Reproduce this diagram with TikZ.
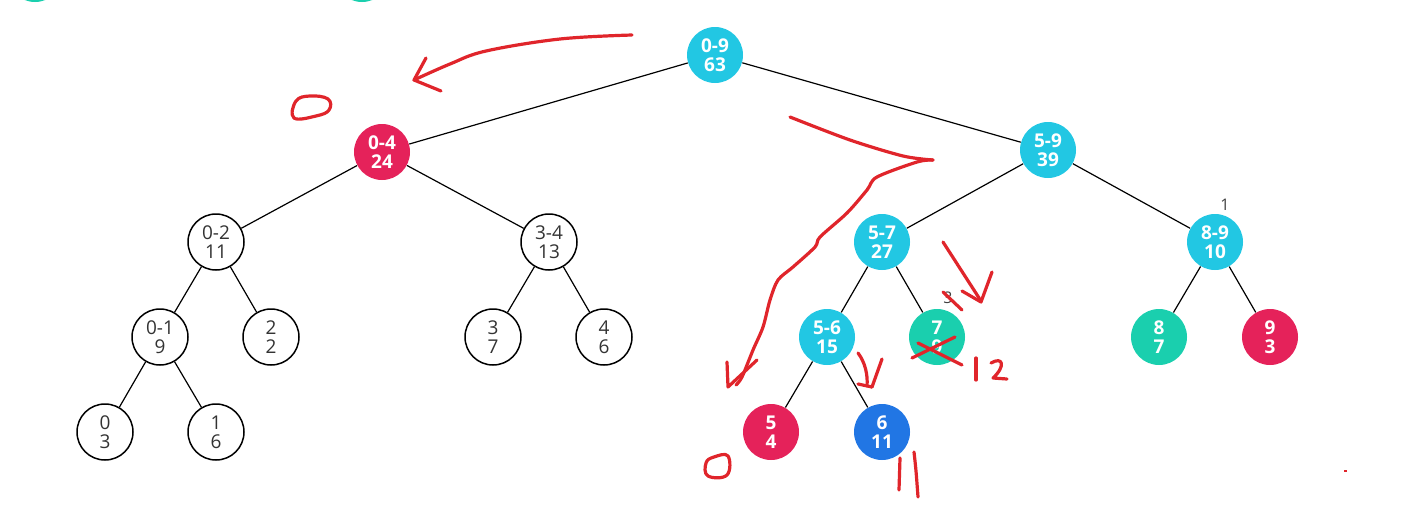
\documentclass[tikz,border=0pt]{standalone}
\usepackage{fontspec}
\setmainfont{Open Sans}
\definecolor{sky}{HTML}{22C7E3}
\definecolor{ruby}{HTML}{E5225A}
\definecolor{mint}{HTML}{1ACFAE}
\definecolor{navy}{HTML}{2176E4}
\definecolor{pen}{HTML}{E0252B}

\tikzset{
    seg/.style={circle, minimum size=28pt, inner sep=0pt, align=center,
        font=\fontsize{9.5}{9.4}\selectfont},
    plain/.style={seg, draw=black, line width=0.75pt, fill=white, text=black!80},
    full/.style={seg, text=white, font=\fontsize{9.5}{9.4}\selectfont\bfseries},
    sky/.style={full, fill=sky},
    ruby/.style={full, fill=ruby},
    mint/.style={full, fill=mint},
    navy/.style={full, fill=navy},
    link/.style={line width=0.6pt},
    tag/.style={text=black!75, font=\fontsize{8}{8}\selectfont, inner sep=0pt},
    ink/.style={draw=pen, line width=1.6pt, line cap=round, line join=round}
}

\begin{document}
\begin{tikzpicture}[x=0.5pt, y=-0.5pt]
    \useasboundingbox (0,0) rectangle (1418,520);
    %top, cut off
    \node[mint] (up1) at (35,-26) {};
    \node[mint] (up2) at (362,-26) {};
    %tree
    \node[sky] (r09) at (715,55) {0-9\\63};
    \node[ruby] (r04) at (382,152) {0-4\\24};
    \node[sky] (r59) at (1048,150) {5-9\\39};
    \node[plain] (r02) at (216,242) {0-2\\11};
    \node[plain] (r34) at (549,242) {3-4\\13};
    \node[sky] (r57) at (882,242) {5-7\\27};
    \node[sky] (r89) at (1215,242) {8-9\\10};
    \node[plain] (r01) at (160,337) {0-1\\9};
    \node[plain] (r2) at (271,337) {2\\2};
    \node[plain] (r3) at (493,337) {3\\7};
    \node[plain] (r4) at (604,337) {4\\6};
    \node[sky] (r56) at (827,337) {5-6\\15};
    \node[mint] (r7) at (937,337) {7\\9};
    \node[mint] (r8) at (1159,337) {8\\7};
    \node[ruby] (r9) at (1270,337) {9\\3};
    \node[plain] (r0) at (105,432) {0\\3};
    \node[plain] (r1) at (216,432) {1\\6};
    \node[ruby] (r5) at (771,432) {5\\4};
    \node[navy] (r6) at (882,432) {6\\11};
    \foreach \a/\b in {r09/r04, r09/r59, r04/r02, r04/r34, r59/r57, r59/r89,
        r02/r01, r02/r2, r34/r3, r34/r4, r57/r56, r57/r7, r89/r8, r89/r9,
        r01/r0, r01/r1, r56/r5, r56/r6}
        \draw[link] (\a) -- (\b);
    \node[tag] (t89) at (1225,205) {1};
    \node[tag] (t7) at (948,298) {3};
    %pen
    \begin{scope}
    \draw[ink] plot[smooth, tension=0.6] coordinates {(632,35) (560,39) (486,51) (450,64) (414,80)};
    \draw[ink] (426,58) -- (414,80) -- (441,91);
    \draw[ink] plot[smooth cycle, tension=0.7] coordinates {(294,118) (296,101) (310,96) (328,99) (329,110) (316,116)};
    \draw[ink] plot[smooth, tension=0.5] coordinates {(790,117) (850,140) (903,156) (933,160)};
    \draw[ink] plot[smooth, tension=0.5] coordinates {(933,160) (917,162) (877,177) (867,190) (847,213) (820,237) (815,247) (793,267) (778,280) (770,300) (763,327) (753,350) (742,377) (736,385)};
    \draw[ink] (727,362) -- (728,387) -- (757,360);
    \draw[ink] (943,242) -- (981,301);
    \draw[ink] (992,272) -- (981,302) -- (962,291);
    \draw[ink] (943,292) -- (962,310);
    \draw[ink] (912,358) -- (955,337);
    \draw[ink] (918,343) -- (962,365);
    \draw[ink] (976,358) -- (976,380);
    \draw[ink] (991,363) .. controls (1003,356) and (1006,366) .. (993,378) -- (1007,379);
    \draw[ink] (858,353) .. controls (865,362) and (868,375) .. (867,386);
    \draw[ink] (858,384) -- (872,387);
    \draw[ink] (882,359) -- (872,387);
    \draw[ink] plot[smooth cycle, tension=0.7] coordinates {(706,463) (708,476) (727,475) (728,456) (714,457)};
    \draw[ink] (900,458) -- (899,490);
    \draw[ink] (914,452) .. controls (916,470) .. (918,497);
    \fill[pen] (1344,470) rectangle (1347,472);
    \end{scope}
\end{tikzpicture}
\end{document}
